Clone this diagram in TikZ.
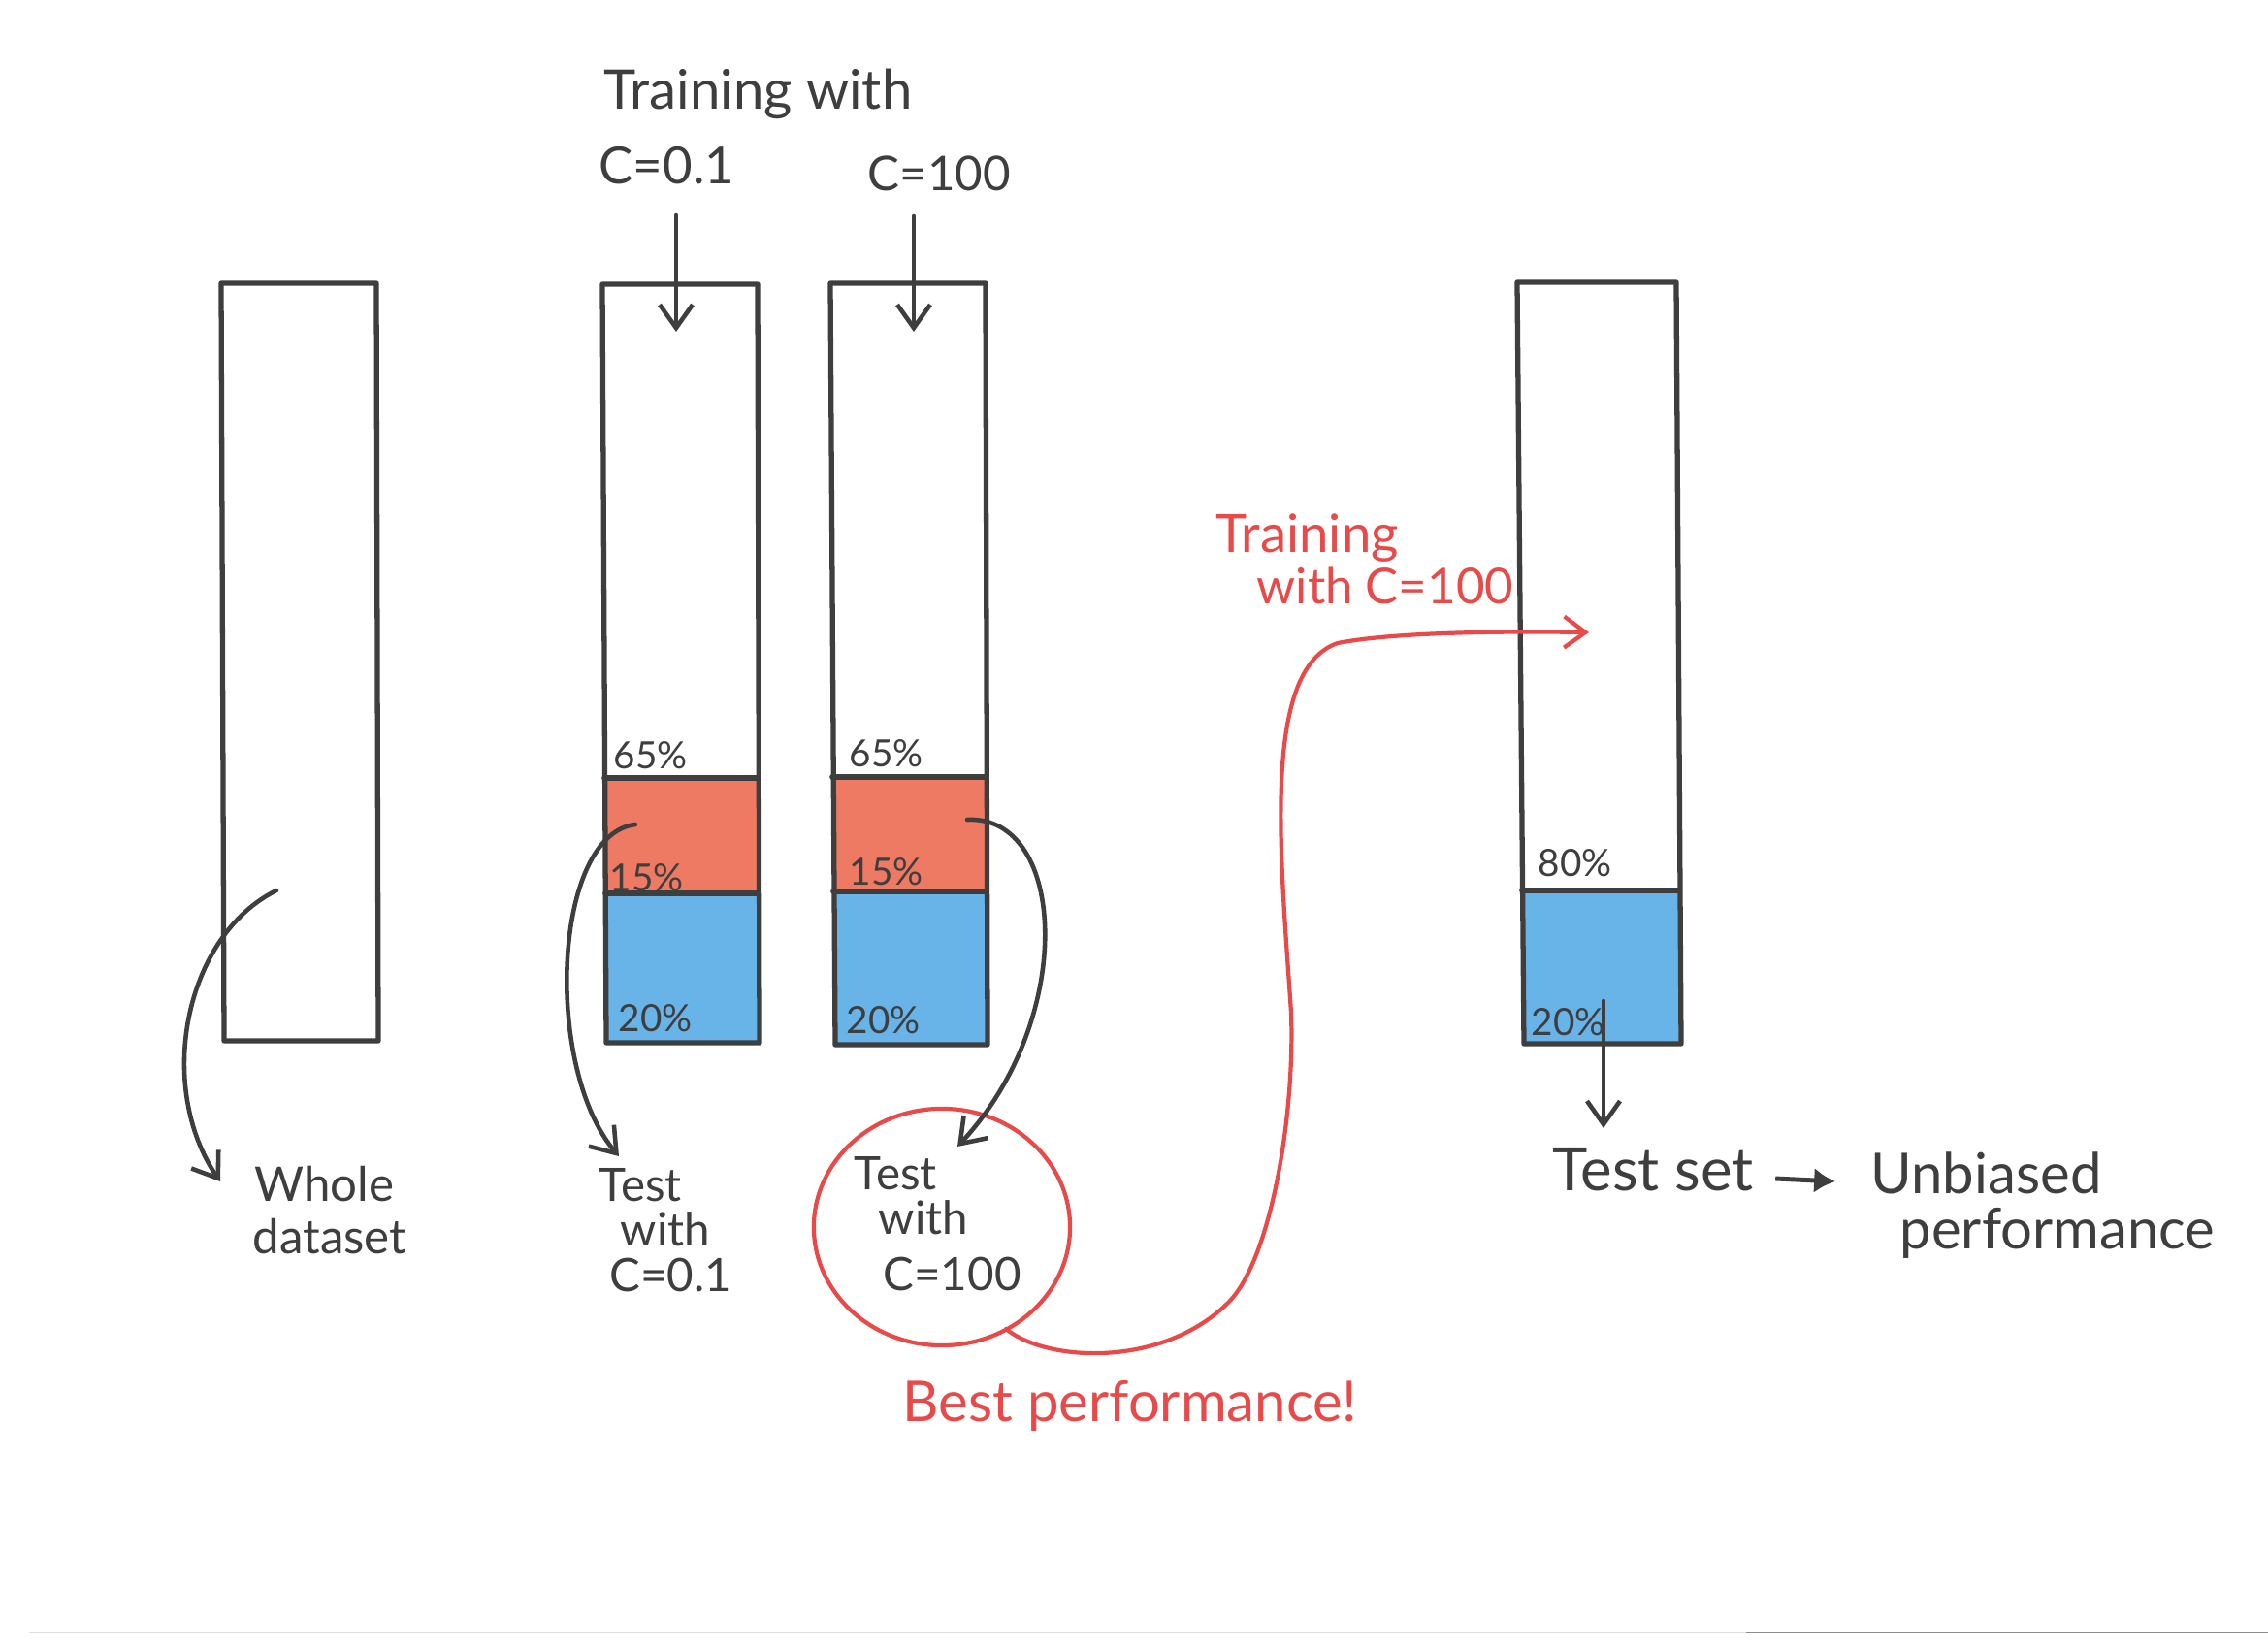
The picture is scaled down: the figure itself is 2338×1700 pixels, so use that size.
\documentclass[tikz,border=0pt]{standalone}
\usepackage{fontspec}
\setmainfont{Lato}
\usetikzlibrary{arrows.meta}
\definecolor{ink}{RGB}{62,62,62}
\definecolor{redpen}{RGB}{232,74,74}
\definecolor{redfill}{RGB}{238,122,100}
\definecolor{bluefill}{RGB}{104,180,232}
\begin{document}
\begin{tikzpicture}[x=0.01cm,y=-0.01cm,
  barline/.style={draw=ink, line width=1.5pt, line join=round},
  divline/.style={draw=ink, line width=1.6pt, line cap=round},
  penarrow/.style={draw=ink, line width=1.3pt, line cap=round, -{Straight Barb[length=2.4mm,width=3.4mm]}},
  redarrow/.style={draw=redpen, line width=1.2pt, line cap=round, -{Straight Barb[length=2.2mm,width=3.2mm]}},
  txt/.style={anchor=base west, text=ink, inner sep=0pt, font=\fontsize{16}{19}\selectfont},
  stack/.style={anchor=base west, text=ink, inner sep=0pt, font=\fontsize{14}{17}\selectfont},
  stackline/.style={anchor=base west, text=ink, inner sep=0pt, font=\fontsize{13.5}{16}\selectfont},
  pct/.style={anchor=base west, text=ink, inner sep=0pt, font=\fontsize{11}{13}\selectfont},
  redtxt/.style={anchor=base west, text=redpen, inner sep=0pt, font=\fontsize{14.5}{17}\selectfont}
]
\useasboundingbox (0,0) rectangle (2338,1700);
\fill[white] (0,0) rectangle (2338,1700);
% faint scan edge
\draw[black!12, line width=0.6pt] (30,1683) -- (1800,1683);
\draw[black!45, line width=0.8pt] (1800,1683) -- (2338,1683);

% ---- fills
\fill[redfill] (623,802) -- (782,802) -- (782,921) -- (624,921) -- cycle;
\fill[bluefill] (624,921) -- (782,921) -- (783,1075) -- (625,1075) -- cycle;
\fill[redfill] (858,801) -- (1017,801) -- (1017,919) -- (859,919) -- cycle;
\fill[bluefill] (859,919) -- (1017,919) -- (1018,1077) -- (861,1077) -- cycle;
\fill[bluefill] (1569,918) -- (1731,918) -- (1733,1076) -- (1571,1076) -- cycle;

% ---- bars
\draw[barline] (228,292) -- (388,292) -- (390,1073) -- (231,1073) -- cycle;
\draw[barline] (621,293) -- (781,293) -- (783,1075) -- (625,1075) -- cycle;
\draw[divline] (623,802) -- (782,802);
\draw[divline] (624,921) -- (782,921);
\draw[barline] (856,292) -- (1016,292) -- (1018,1077) -- (861,1077) -- cycle;
\draw[divline] (858,801) -- (1017,801);
\draw[divline] (859,919) -- (1017,919);
\draw[barline] (1564,291) -- (1728,291) -- (1733,1076) -- (1571,1076) -- cycle;
\draw[divline] (1569,918) -- (1731,918);

% ---- top labels
\node[txt] (trainwith) at (622,113) {Training with};
\node[txt, font=\fontsize{15}{18}\selectfont] (c01top) at (617,190) {C=0.1};
\node[txt, font=\fontsize{14}{17}\selectfont] (c100top) at (894,197) {C=100};
\coordinate (a1s) at (697,222);
\coordinate (a1e) at (697,342);
\coordinate (a2s) at (942,223);
\coordinate (a2e) at (942,342);
\draw[penarrow] (a1s) -- (a1e);
\draw[penarrow] (a2s) -- (a2e);

% ---- percentages
\node[pct] (p65a) at (632,792) {65\%};
\node[pct] (p15a) at (628,918) {15\%};
\node[pct] (p20a) at (637,1063) {20\%};
\node[pct] (p65b) at (875,790) {65\%};
\node[pct] (p15b) at (875,912) {15\%};
\node[pct] (p20b) at (872,1065) {20\%};
\node[pct] (p80) at (1585,903) {80\%};
\node[pct] (p20c) at (1578,1067) {20\%};

% ---- whole dataset
\node[stack] (whole) at (262,1238) {Whole};
\node[stack] (dataset) at (260,1292) {dataset};
\coordinate (w1) at (285,918);
\coordinate (w2) at (227,1218);
\draw[penarrow] (w1) .. controls (190,965) and (160,1120) .. (w2);

% ---- test with C=0.1
\node[stackline] (testA) at (617,1238) {Test};
\node[stackline] (withA) at (639,1284) {with};
\node[stackline] (cA) at (628,1331) {C=0.1};
\coordinate (t1s) at (655,850);
\coordinate (t1e) at (638,1192);
\draw[penarrow] (t1s) .. controls (570,860) and (560,1100) .. (t1e);

% ---- test with C=100 (circled)
\draw[redpen, line width=1.2pt] (971,1265) ellipse [x radius=1.32cm, y radius=1.22cm];
\node[stackline] (testB) at (880,1226) {Test};
\node[stackline] (withB) at (905,1272) {with};
\node[stackline] (cB) at (910,1330) {C=100};
\coordinate (t2s) at (997,845);
\coordinate (t2e) at (987,1182);
\draw[penarrow] (t2s) .. controls (1100,840) and (1110,1050) .. (t2e);

% ---- red training curve
\coordinate (r0) at (1037,1370);
\coordinate (r1) at (1267,1342);
\coordinate (r2) at (1331,1044);
\coordinate (r3) at (1379,663);
\coordinate (r4) at (1638,652);
\draw[redarrow] (r0) .. controls (1080,1405) and (1200,1410) .. (r1)
  .. controls (1310,1298) and (1335,1150) .. (r2)
  .. controls (1320,880) and (1300,690) .. (r3)
  .. controls (1420,655) and (1500,650) .. (r4);
\node[redtxt, font=\fontsize{15.5}{18}\selectfont] (trainred) at (1253,570) {Training};
\node[redtxt] (withred) at (1295,622) {with C=100};
\node[redtxt, font=\fontsize{16.5}{20}\selectfont] (best) at (930,1465) {Best performance!};

% ---- test set
\coordinate (s1) at (1653,1032);
\coordinate (s2) at (1653,1163);
\draw[penarrow] (s1) -- (s2);
\node[txt, font=\fontsize{17.5}{21}\selectfont] (testset) at (1600,1227) {Test set};
\node[txt, font=\fontsize{16.5}{20}\selectfont] (unb) at (1928,1230) {Unbiased};
\node[txt, font=\fontsize{16.5}{20}\selectfont] (perf) at (1958,1287) {performance};
\draw[draw=ink, line width=1.4pt, -{Latex[length=2.2mm,width=2.6mm]}] (testset.base east) ++(22,-12) coordinate (ts1) -- ++(62,3) coordinate (ts2);
\end{tikzpicture}
\end{document}
